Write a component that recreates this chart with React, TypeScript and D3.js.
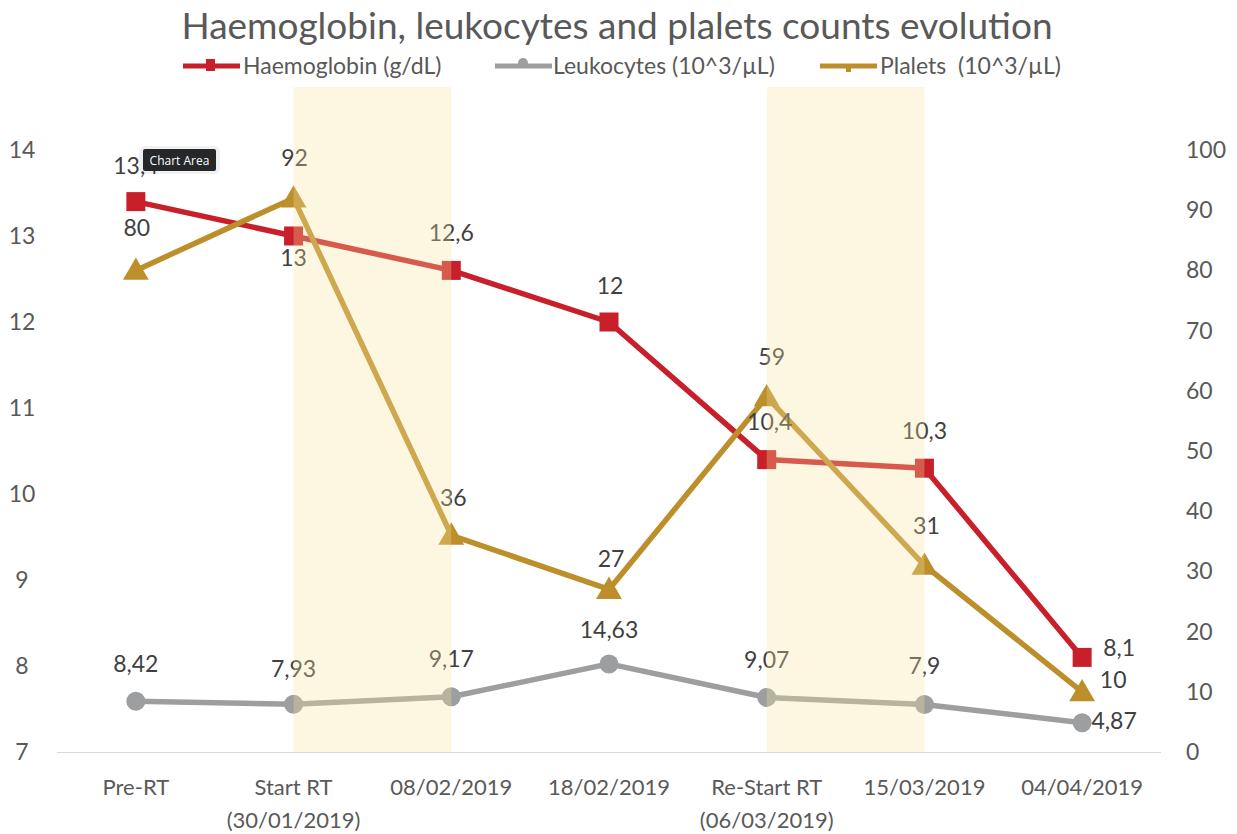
import {useEffect, useRef} from "react";
import * as d3 from "d3";

const categories = [
    ["Pre-RT"],
    ["Start RT", "(30/01/2019)"],
    ["08/02/2019"],
    ["18/02/2019"],
    ["Re-Start RT", "(06/03/2019)"],
    ["15/03/2019"],
    ["04/04/2019"],
];
const haemoglobin = [13.4, 13, 12.6, 12, 10.4, 10.3, 8.1];
const leukocytes = [8.42, 7.93, 9.17, 14.63, 9.07, 7.9, 4.87];
const plalets = [80, 92, 36, 27, 59, 31, 10];
const leftTicks = [7, 8, 9, 10, 11, 12, 13, 14];
const rightTicks = [0, 10, 20, 30, 40, 50, 60, 70, 80, 90, 100];
// shaded periods: from category index to category index
const periods = [[1, 2], [4, 5]];

const fmt = (v: number) => String(v).replace(".", ",");

function App() {
    const myNode = useRef<HTMLDivElement>(null);

    useEffect(() => {
        document.body.style.margin = "0";
        const width = 1237;
        const height = 834;
        const font = "Lato, 'Open Sans', sans-serif";

        d3.select(myNode.current).selectAll('*').remove();

        const svg = d3.select(myNode.current)
            .append('svg')
            .attr('width', width)
            .attr('height', height)
            .style('font-family', font);

        const xScale = d3.scaleBand<number>()
            .domain(d3.range(categories.length))
            .range([57, 1161]);
        const cx = (i: number) => xScale(i)! + xScale.bandwidth() / 2;

        const yLeft = d3.scaleLinear().domain([7, 14]).range([752, 150]);
        const yRight = d3.scaleLinear().domain([0, 100]).range([752, 150]);

        // title
        svg.append('text')
            .attr('x', 617).attr('y', 39)
            .attr('text-anchor', 'middle')
            .attr('font-size', 37)
            .attr('fill', '#595959')
            .text('Haemoglobin, leukocytes and plalets counts evolution');

        // x axis line
        svg.append('line')
            .attr('x1', 57).attr('x2', 1161)
            .attr('y1', 752.5).attr('y2', 752.5)
            .attr('stroke', '#d9d9d9');

        // axes labels
        svg.append('g').selectAll('text')
            .data(leftTicks).enter().append('text')
            .attr('x', 22).attr('y', d => yLeft(d) + 8)
            .attr('text-anchor', 'middle')
            .attr('font-size', 23).attr('fill', '#595959')
            .text(d => d);

        svg.append('g').selectAll('text')
            .data(rightTicks).enter().append('text')
            .attr('x', 1186).attr('y', d => yRight(d) + 8)
            .attr('font-size', 23).attr('fill', '#595959')
            .text(d => d);

        const xl = svg.append('g').selectAll('text')
            .data(categories).enter().append('text')
            .attr('text-anchor', 'middle')
            .attr('font-size', 22).attr('fill', '#595959');
        xl.each(function (d, i) {
            d3.select(this).selectAll('tspan')
                .data(d).enter().append('tspan')
                .attr('x', cx(i))
                .attr('y', (_, j) => 795 + j * 33)
                .text(t => t);
        });

        const series = [
            {name: "Haemoglobin (g/dL)", values: haemoglobin, y: yLeft, color: "#c8202a", marker: "square"},
            {name: "Leukocytes (10^3/µL)", values: leukocytes, y: yRight, color: "#9c9e9f", marker: "circle"},
            {name: "Plalets  (10^3/µL)", values: plalets, y: yRight, color: "#bc8f2b", marker: "triangle"},
        ];

        const drawMarker = (g: any, kind: string, x: number, y: number, color: string, size: number) => {
            if (kind === "square") {
                g.append('rect').attr('x', x - size / 2).attr('y', y - size / 2)
                    .attr('width', size).attr('height', size).attr('fill', color);
            } else if (kind === "circle") {
                g.append('circle').attr('cx', x).attr('cy', y).attr('r', size / 2).attr('fill', color);
            } else {
                g.append('path')
                    .attr('d', d3.symbol(d3.symbolTriangle, size * size * 0.8)())
                    .attr('transform', `translate(${x},${y + 2})`)
                    .attr('fill', color);
            }
        };

        series.forEach(s => {
            const g = svg.append('g');
            const line = d3.line<number>()
                .x((_, i) => cx(i))
                .y(d => s.y(d));
            g.append('path')
                .attr('d', line(s.values))
                .attr('fill', 'none')
                .attr('stroke', s.color)
                .attr('stroke-width', 5.5)
                .attr('stroke-linejoin', 'round');
            s.values.forEach((v, i) => drawMarker(g, s.marker, cx(i), s.y(v), s.color, 19));
        });

        // data label offsets (dx, dy of label centre from point)
        const labelPos: Record<string, [number, number][]> = {
            "Haemoglobin (g/dL)": [[0, -36], [0, 22], [0, -37], [1, -36], [3, -38], [0, -37], [37, -9]],
            "Leukocytes (10^3/µL)": [[0, -37], [0, -35], [0, -38], [0, -34], [0, -37], [0, -38], [32, -2]],
            "Plalets  (10^3/µL)": [[1, -42], [1, -40], [2, -37], [2, -30], [5, -40], [2, -39], [31, -12]],
        };
        series.forEach(s => {
            svg.append('g').selectAll('text')
                .data(s.values).enter().append('text')
                .attr('x', (d, i) => cx(i) + labelPos[s.name][i][0])
                .attr('y', (d, i) => s.y(d) + labelPos[s.name][i][1] + 8)
                .attr('text-anchor', 'middle')
                .attr('font-size', 23).attr('fill', '#404040')
                .text(d => fmt(d));
        });

        // shaded periods over everything
        svg.append('g').selectAll('rect')
            .data(periods).enter().append('rect')
            .attr('x', d => cx(d[0]))
            .attr('width', d => cx(d[1]) - cx(d[0]))
            .attr('y', 87).attr('height', 752 - 87)
            .attr('fill', '#f7e3a0')
            .attr('opacity', 0.3);

        // legend
        const legendX = [183, 495, 820];
        const legendText = [243, 553, 880];
        series.forEach((s, i) => {
            const g = svg.append('g');
            g.append('line')
                .attr('x1', legendX[i]).attr('x2', legendX[i] + 57)
                .attr('y1', 66).attr('y2', 66)
                .attr('stroke', s.color).attr('stroke-width', 5);
            if (s.marker === "square") {
                g.append('rect').attr('x', legendX[i] + 23).attr('y', 59).attr('width', 9).attr('height', 12).attr('fill', s.color);
            } else if (s.marker === "circle") {
                g.append('circle').attr('cx', legendX[i] + 28).attr('cy', 63).attr('r', 5).attr('fill', s.color);
            } else {
                g.append('rect').attr('x', legendX[i] + 26).attr('y', 64).attr('width', 5).attr('height', 8).attr('fill', s.color);
            }
            g.append('text')
                .attr('x', legendText[i]).attr('y', 74)
                .attr('font-size', 23).attr('fill', '#595959')
                .style('white-space', 'pre')
                .text(s.name);
        });

        // hover tooltip captured in the screenshot
        const tip = svg.append('g');
        tip.append('rect')
            .attr('x', 139).attr('y', 146).attr('width', 81).attr('height', 28)
            .attr('fill', '#000').attr('opacity', 0.06).attr('rx', 6);
        tip.append('rect')
            .attr('x', 143).attr('y', 149).attr('width', 73).attr('height', 22)
            .attr('fill', '#25272a').attr('rx', 2);
        tip.append('text')
            .attr('x', 179.5).attr('y', 164.5)
            .attr('text-anchor', 'middle')
            .attr('font-size', 12).attr('fill', '#fff')
            .style('font-family', "'Open Sans', sans-serif")
            .text('Chart Area');
    }, []);

    return (
        <div ref={myNode} className='chart'>
        </div>
    );
}

export default App;
